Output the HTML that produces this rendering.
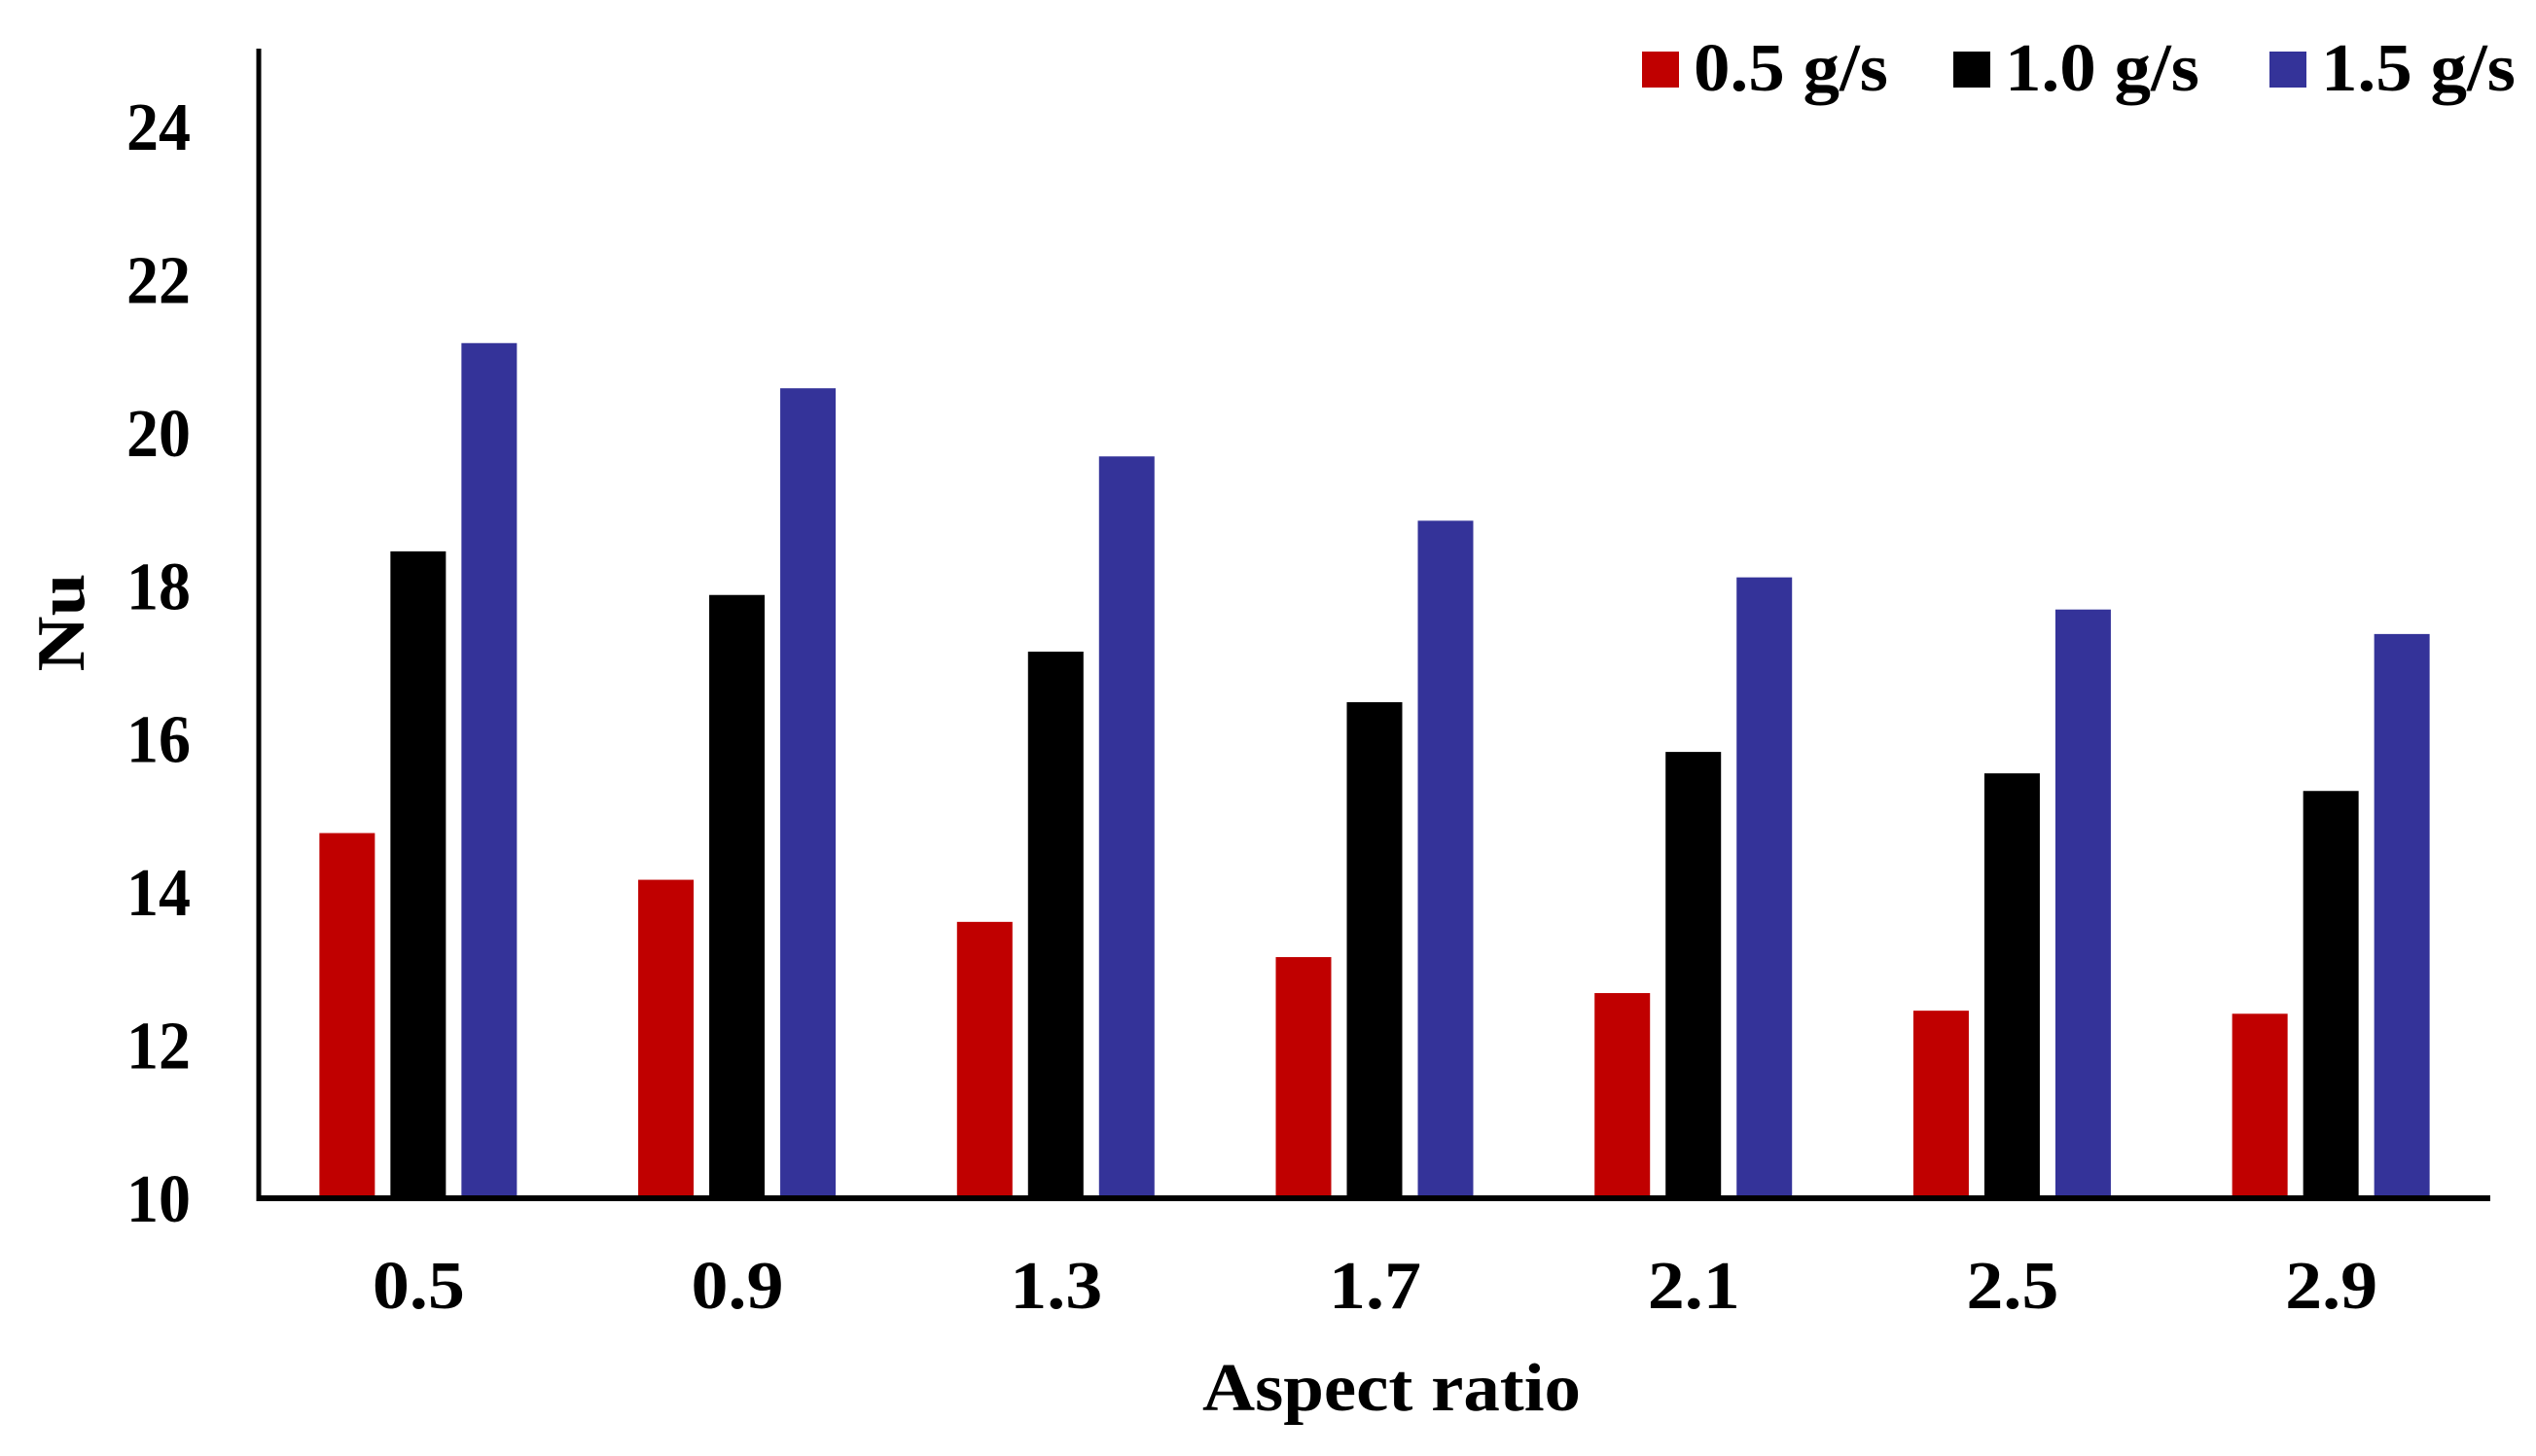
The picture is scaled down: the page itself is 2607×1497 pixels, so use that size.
<!DOCTYPE html>
<html><head><meta charset="utf-8"><style>
html,body{margin:0;padding:0;background:#fff;}
svg{display:block;}
text{font-family:"Liberation Serif",serif;font-weight:bold;fill:#000;}
</style></head><body>
<svg id="chart" width="2607" height="1497" viewBox="0 0 2607 1497" xmlns="http://www.w3.org/2000/svg"></svg>
<script>
const categories = ["0.5","0.9","1.3","1.7","2.1","2.5","2.9"];
const series05 = [14.77,14.16,13.61,13.15,12.68,12.45,12.41];
const series10 = [18.45,17.88,17.14,16.48,15.83,15.55,15.32];
const series15 = [21.17,20.58,19.69,18.85,18.11,17.69,17.37];
const yTicks = [10,12,14,16,18,20,22,24];
const seriesNames = ["0.5 g/s","1.0 g/s","1.5 g/s"];
const colors = ["#c00000","#000000","#343399"];

const NS="http://www.w3.org/2000/svg";
const svg=document.getElementById('chart');
const x0=266,x1=2560,y0=1232,yTop=50;
const yMin=10, pxPerUnit=(1232-130)/14;
function yScale(v){return y0-(v-yMin)*pxPerUnit;}
const band=(x1-x0)/categories.length;
function xCenter(i){return x0+band*(i+0.5);}
function mk(tag,attrs){const e=document.createElementNS(NS,tag);for(const k in attrs)e.setAttribute(k,attrs[k]);svg.appendChild(e);return e;}

const all=[series05,series10,series15];
const bw=57, step=73;
all.forEach((s,si)=>{
  s.forEach((v,i)=>{
    const cx=xCenter(i)+(si-1)*step;
    const r=mk('rect',{x:cx-bw/2,y:yScale(v),width:bw,height:y0-yScale(v),fill:colors[si]});
    
    
  });
});

let a=mk('line',{x1:x0,y1:yTop,x2:x0,y2:y0+3,stroke:'#000','stroke-width':5});


a=mk('line',{x1:x0-2,y1:y0,x2:x1,y2:y0,stroke:'#000','stroke-width':6});



yTicks.forEach(t=>{
  const e=mk('text',{x:196,y:yScale(t)+24,'text-anchor':'end','font-size':70,textLength:66,lengthAdjust:'spacingAndGlyphs'});
  e.textContent=t;
  
  
});
categories.forEach((c,i)=>{
  const e=mk('text',{x:xCenter(i)-47,y:1345,'font-size':70,textLength:95,lengthAdjust:'spacingAndGlyphs'});
  e.textContent=c;
  
  
});
let t=mk('text',{x:1236,y:1450,'font-size':70,textLength:389,lengthAdjust:'spacingAndGlyphs'});
t.textContent='Aspect ratio';


t=mk('text',{x:0,y:0,'font-size':70,'text-anchor':'middle',textLength:101,lengthAdjust:'spacingAndGlyphs',transform:'translate(86,640) rotate(-90)'});
t.textContent='Nu';



const legX=[1688,2008,2333];
seriesNames.forEach((n,i)=>{
  const r=mk('rect',{x:legX[i],y:53,width:38,height:37,fill:colors[i]});
  
  
  const e=mk('text',{x:legX[i]+53,y:93,'font-size':70,textLength:200,lengthAdjust:'spacingAndGlyphs'});
  e.textContent=n;
  
  
});
</script>
</body></html>
